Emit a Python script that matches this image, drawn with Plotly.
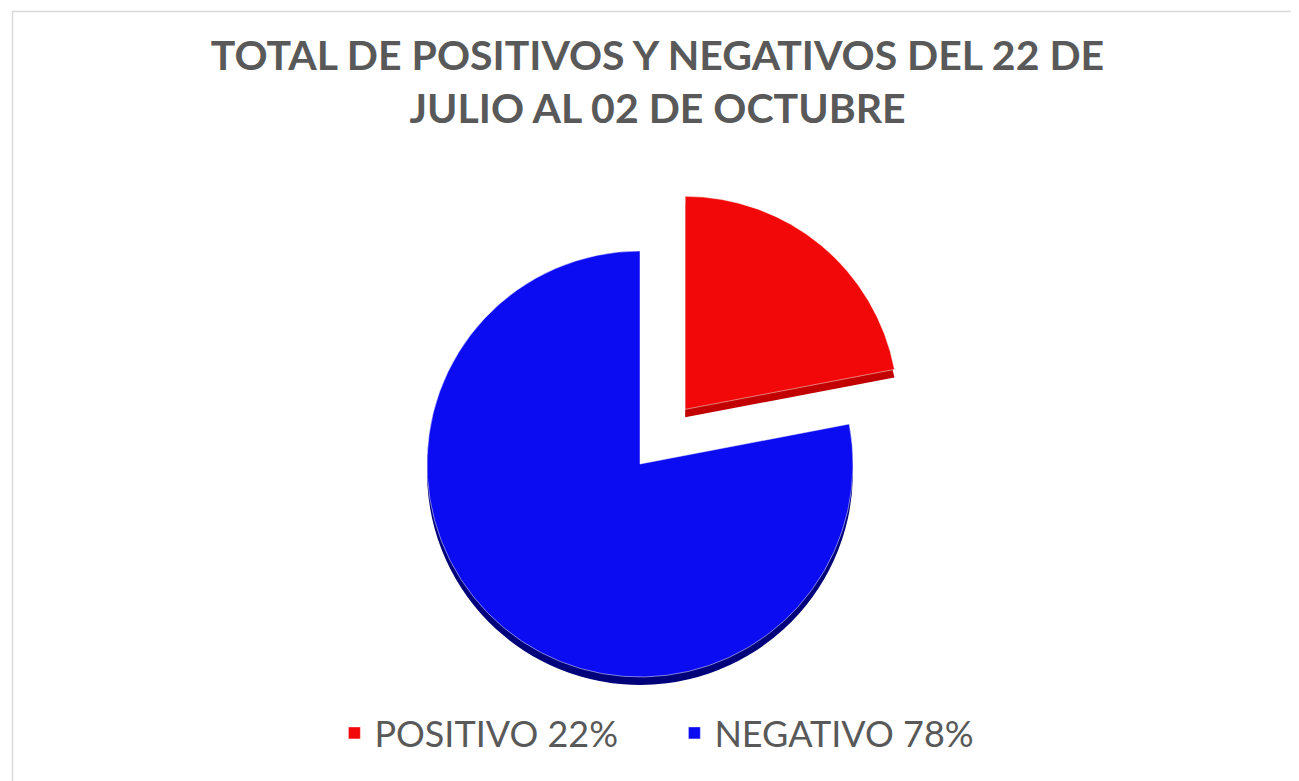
import plotly.graph_objects as go

labels = ["POSITIVO 22%", "NEGATIVO 78%"]
values = [22, 78]
colors = ["#f20808", "#0c0cf2"]
side_colors = ["#c20000", "#00007a"]
pulls = [0.333, 0]

W, H = 1299, 781

# pie placement (pixels): centre and radius of the unpulled pie
cx, cy, r = 632, 456, 213
half = r * (1 + max(pulls))
dom_x = [(cx - half) / W, (cx + half) / W]
dom_y = [1 - (cy + half) / H, 1 - (cy - half) / H]
depth = 8 / H

fig = go.Figure()

# darker copy a few px lower, gives the thin 3D edge
fig.add_trace(go.Pie(
    labels=labels,
    values=values,
    sort=False,
    direction="clockwise",
    rotation=0,
    pull=pulls,
    textinfo="none",
    hoverinfo="skip",
    showlegend=False,
    marker=dict(colors=side_colors, line=dict(width=0)),
    domain=dict(x=dom_x, y=[dom_y[0] - depth, dom_y[1] - depth]),
))

fig.add_trace(go.Pie(
    labels=labels,
    values=values,
    sort=False,
    direction="clockwise",
    rotation=0,
    pull=pulls,
    textinfo="none",
    hovertemplate="%{label}<extra></extra>",
    marker=dict(colors=colors, line=dict(color="rgba(255,255,255,0.6)", width=0.8)),
    domain=dict(x=dom_x, y=dom_y),
))

fig.update_layout(
    width=W,
    height=H,
    margin=dict(l=0, r=0, t=0, b=0),
    paper_bgcolor="white",
    plot_bgcolor="white",
    title=dict(
        text="<b>TOTAL DE POSITIVOS Y NEGATIVOS DEL 22 DE<br>JULIO AL 02 DE OCTUBRE</b>",
        x=0.5,
        xanchor="center",
        y=1 - 62 / H,
        yanchor="top",
        yref="container",
        font=dict(family="Lato", size=41, color="#595959"),
    ),
    legend=dict(
        orientation="h",
        x=0.513,
        xanchor="center",
        y=1 - 725 / H,
        yanchor="middle",
        entrywidth=295,
        font=dict(family="Lato", size=36, color="#595959"),
        itemclick=False,
        traceorder="normal",
    ),
    shapes=[dict(
        type="rect", xref="paper", yref="paper",
        x0=4.5 / W, x1=1297.5 / W, y0=1 - 779 / H, y1=1 - 3.5 / H,
        line=dict(color="#d9d9d9", width=1.5),
        fillcolor="rgba(0,0,0,0)",
    )],
)

fig.write_html("out.html")
